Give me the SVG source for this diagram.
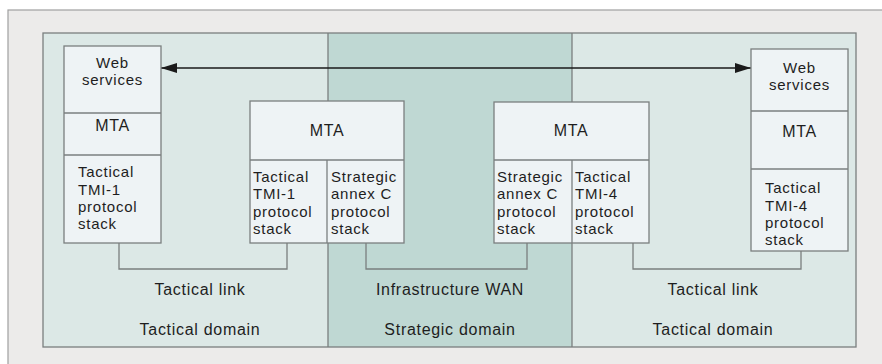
<svg xmlns="http://www.w3.org/2000/svg" width="882" height="364" viewBox="0 0 882 364">
  <style>
    .frame { fill: #ecebea; stroke: #a0a0a0; stroke-width: 1.2; }
    .tac { fill: #dce8e6; }
    .str { fill: #bfd8d3; }
    .edge { fill: none; stroke: #7a7f7f; stroke-width: 1.3; }
    .box { fill: #eef3f5; stroke: #7a7f7f; stroke-width: 1.3; }
    .wire { fill: none; stroke: #7a7f7f; stroke-width: 1.3; }
    .arrow { fill: none; stroke: #1a1a1a; stroke-width: 1.4; }
    text { font-family: "Liberation Sans", Arial, sans-serif; font-size: 16px; letter-spacing: 0.7px; fill: #1e1e1e; }
    .s { font-size: 15px; letter-spacing: 0.75px; }
    .c { text-anchor: middle; }
  </style>
  <defs>
    <marker id="head" viewBox="0 0 16 10" refX="16" refY="5" markerWidth="16" markerHeight="10" markerUnits="userSpaceOnUse" orient="auto-start-reverse">
      <path d="M0,0 L16,5 L0,10 Z" fill="#1a1a1a"/>
    </marker>
  </defs>

  <!-- background frame -->
  <rect class="frame" x="8" y="10" width="880" height="360"/>

  <!-- domains -->
  <g id="domains">
    <rect class="tac" x="43" y="33" width="285" height="314"/>
    <rect class="str" x="328" y="33" width="244" height="314"/>
    <rect class="tac" x="572" y="33" width="284" height="314"/>
    <rect class="edge" x="43" y="33" width="813" height="314"/>
    <line class="edge" x1="328" y1="33" x2="328" y2="347"/>
    <line class="edge" x1="572" y1="33" x2="572" y2="347"/>
    <text class="c" x="200" y="295">Tactical link</text>
    <text class="c" x="200" y="335">Tactical domain</text>
    <text class="c" x="450" y="295">Infrastructure WAN</text>
    <text class="c" x="450" y="335">Strategic domain</text>
    <text class="c" x="713" y="295">Tactical link</text>
    <text class="c" x="713" y="335">Tactical domain</text>
  </g>

  <!-- links -->
  <g id="connectors">
    <polyline class="wire" points="119,243 119,269 287,269 287,243"/>
    <polyline class="wire" points="366,243 366,269 527,269 527,243"/>
    <polyline class="wire" points="633,243 633,269 801,269 801,251"/>
    <line class="arrow" x1="161" y1="68" x2="751" y2="68" marker-start="url(#head)" marker-end="url(#head)"/>
  </g>

  <!-- left end host -->
  <g id="host-left">
    <rect class="box" x="64" y="46" width="97" height="197"/>
    <line class="edge" x1="64" y1="113" x2="161" y2="113"/>
    <line class="edge" x1="64" y1="155" x2="161" y2="155"/>
    <text class="c s" x="112.5" y="68">Web<tspan x="112.5" dy="17">services</tspan></text>
    <text class="c" x="112.5" y="131">MTA</text>
    <text class="s" x="78" y="177">Tactical<tspan x="78" dy="17.5">TMI-1</tspan><tspan x="78" dy="17.5">protocol</tspan><tspan x="78" dy="17">stack</tspan></text>
  </g>

  <!-- tactical/strategic gateway -->
  <g id="gateway-left">
    <rect class="box" x="250" y="101" width="154" height="142"/>
    <line class="edge" x1="250" y1="160" x2="404" y2="160"/>
    <line class="edge" x1="327" y1="160" x2="327" y2="243"/>
    <text class="c" x="327" y="136">MTA</text>
    <text class="s" x="253" y="182">Tactical<tspan x="253" dy="17">TMI-1</tspan><tspan x="253" dy="17.5">protocol</tspan><tspan x="253" dy="17">stack</tspan></text>
    <text class="s" x="331" y="182">Strategic<tspan x="331" dy="17">annex C</tspan><tspan x="331" dy="17.5">protocol</tspan><tspan x="331" dy="17">stack</tspan></text>
  </g>

  <!-- strategic/tactical gateway -->
  <g id="gateway-right">
    <rect class="box" x="494" y="102" width="155" height="141"/>
    <line class="edge" x1="494" y1="160" x2="649" y2="160"/>
    <line class="edge" x1="572" y1="160" x2="572" y2="243"/>
    <text class="c" x="571" y="136">MTA</text>
    <text class="s" x="497" y="182">Strategic<tspan x="497" dy="17">annex C</tspan><tspan x="497" dy="17.5">protocol</tspan><tspan x="497" dy="17">stack</tspan></text>
    <text class="s" x="575" y="182">Tactical<tspan x="575" dy="17">TMI-4</tspan><tspan x="575" dy="17.5">protocol</tspan><tspan x="575" dy="17">stack</tspan></text>
  </g>

  <!-- right end host -->
  <g id="host-right">
    <rect class="box" x="751" y="49" width="97" height="202"/>
    <line class="edge" x1="751" y1="111" x2="848" y2="111"/>
    <line class="edge" x1="751" y1="169" x2="848" y2="169"/>
    <text class="c s" x="799.5" y="73">Web<tspan x="799.5" dy="17">services</tspan></text>
    <text class="c" x="799.5" y="137">MTA</text>
    <text class="s" x="765" y="193">Tactical<tspan x="765" dy="17.5">TMI-4</tspan><tspan x="765" dy="17.5">protocol</tspan><tspan x="765" dy="17">stack</tspan></text>
  </g>
</svg>
